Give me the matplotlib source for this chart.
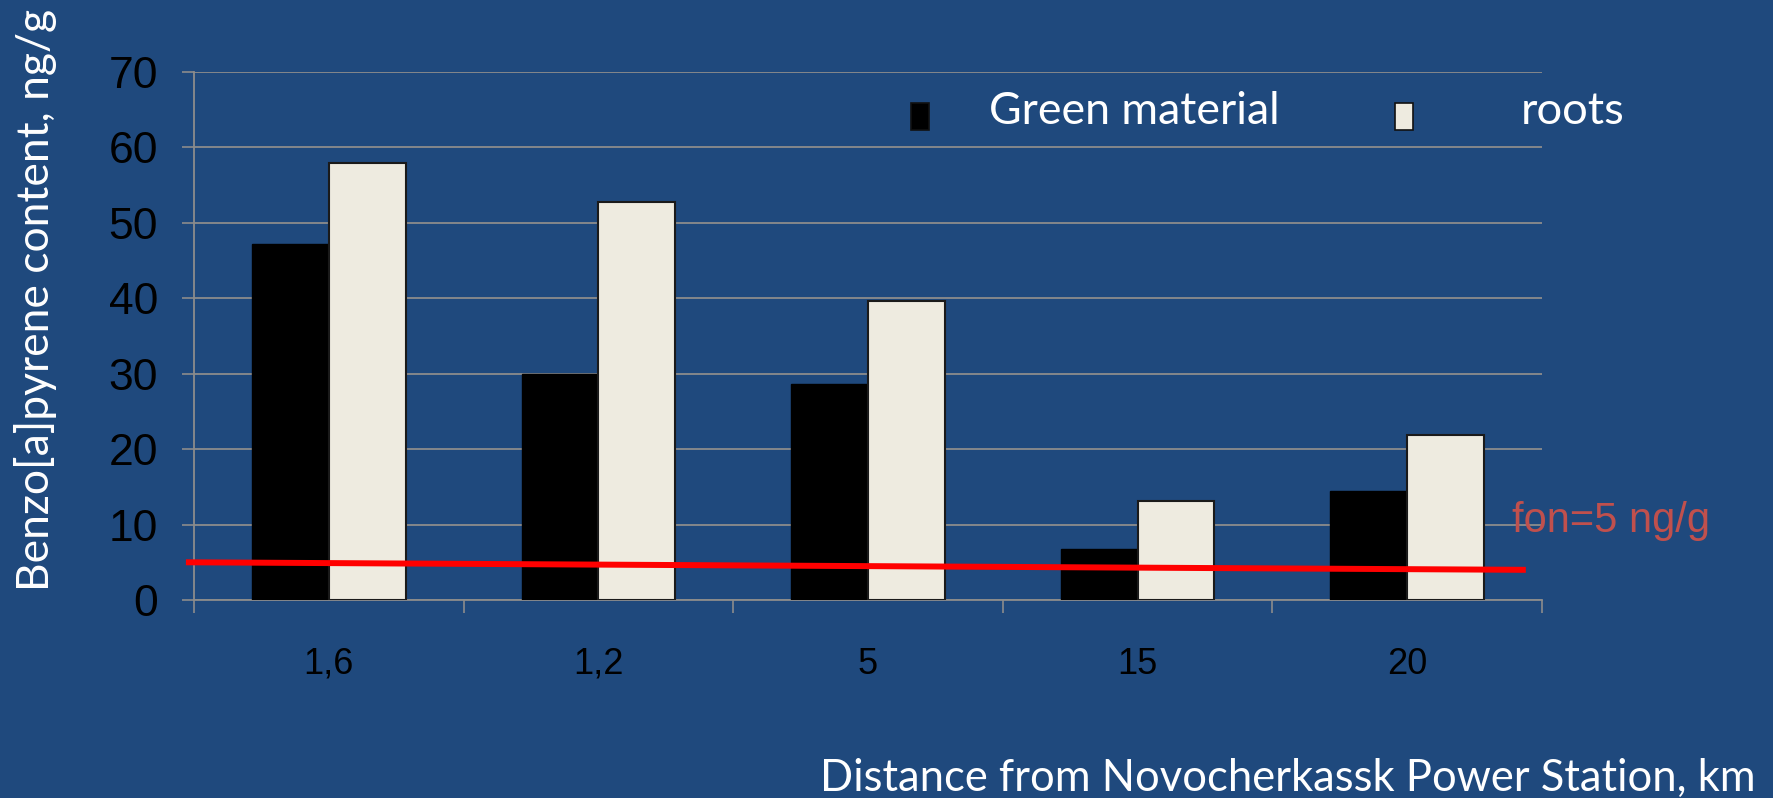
import matplotlib
matplotlib.use("Agg")
import matplotlib.pyplot as plt
from matplotlib import font_manager
from matplotlib.font_manager import FontProperties
from matplotlib.patches import Rectangle
import numpy as np

# ---- data ----
distances = ["1,6", "1,2", "5", "15", "20"]
green_material = [47.2, 30.0, 28.6, 6.7, 14.4]
roots = [57.9, 52.8, 39.6, 13.1, 21.9]
series_names = ["Green material", "roots"]
y_ticks = [0, 10, 20, 30, 40, 50, 60, 70]
background_x = [-0.53, 4.44]
background_y = [5.0, 4.0]
background_label = "fon=5 ng/g"

# ---- style ----
BG = "#1F497D"
CREAM = "#EEEBE0"
GRID = "#8C8C8C"
FON_RED = "#C0504D"


def pick_font(names):
    for n in names:
        try:
            font_manager.findfont(n, fallback_to_default=False)
            return n
        except Exception:
            continue
    return "DejaVu Sans"


ARIAL = pick_font(["Liberation Sans", "DejaVu Sans"])
HUMAN = pick_font(["Lato", "Open Sans", "DejaVu Sans"])

# narrow sans for the tick numbers, if the system has one
tick_fp = FontProperties(family=ARIAL, stretch="condensed")
narrow_file = font_manager.findfont(tick_fp)
has_narrow = "narrow" in narrow_file.lower() or "condensed" in narrow_file.lower()
if has_narrow:
    tick_font = FontProperties(fname=narrow_file)
    ysize, xsize = 35, 27
else:
    tick_font = FontProperties(family=ARIAL)
    ysize, xsize = 32, 26

W, H = 1773, 798
fig = plt.figure(figsize=(W / 100, H / 100), dpi=100, facecolor=BG)
ax = fig.add_axes([194 / W, 1 - 600 / H, (1542 - 194) / W, (600 - 72) / H])
ax.set_facecolor(BG)

x = np.arange(len(distances))
bw = 0.285
ax.bar(x - bw / 2, green_material, width=bw, color="black", edgecolor="black",
       linewidth=1.0, zorder=3)
ax.bar(x + bw / 2, roots, width=bw, color=CREAM, edgecolor="#1a1a1a",
       linewidth=1.5, zorder=3)

ax.plot(background_x, background_y, color="#FF0000", lw=4.3, zorder=5,
        clip_on=False, solid_capstyle="butt")

ax.set_xlim(-0.5, len(distances) - 0.5)
ax.set_ylim(0, 70)
ax.set_yticks(y_ticks)
ax.set_yticklabels([str(v) for v in y_ticks], color="black")
for lab in ax.get_yticklabels():
    lab.set_fontproperties(tick_font)
    lab.set_fontsize(ysize)
ax.tick_params(axis="y", length=9, width=1.2, color=GRID, pad=17)

# category separators as major ticks, names on minor ticks
ax.set_xticks(np.arange(-0.5, len(distances), 1.0))
ax.set_xticklabels([])
ax.set_xticks(x, minor=True)
ax.set_xticklabels(distances, minor=True, color="black")
for lab in ax.get_xticklabels(minor=True):
    lab.set_fontproperties(tick_font)
    lab.set_fontsize(xsize)
ax.tick_params(axis="x", which="major", length=9.5, width=1.2, color=GRID)
ax.tick_params(axis="x", which="minor", length=0, pad=33.5)

ax.yaxis.grid(True, color=GRID, lw=1.3, zorder=0)
ax.set_axisbelow(True)
for s in ["top", "right"]:
    ax.spines[s].set_visible(False)
for s in ["left", "bottom"]:
    ax.spines[s].set_color(GRID)
    ax.spines[s].set_linewidth(1.3)

# ---- texts ----
renderer = fig.canvas.get_renderer()


def fit(t, target, vertical=False):
    bb = t.get_window_extent(renderer)
    cur = bb.height if vertical else bb.width
    t.set_fontsize(t.get_fontsize() * target / cur)


fig.text(1512 / W, 1 - 532 / H, background_label, color=FON_RED,
         fontsize=30, family=ARIAL, ha="left", va="baseline")

ylab = fig.text(36 / W, 1 - 300 / H, "Benzo[a]pyrene content, ng/g",
                color="white", fontsize=30, family=HUMAN, rotation=90,
                ha="center", va="center")
fit(ylab, 581, vertical=True)

xlab = fig.text(1756 / W, 1 - 791 / H,
                "Distance from Novocherkassk Power Station, km",
                color="white", fontsize=30, family=HUMAN, ha="right",
                va="baseline")
fit(xlab, 934)

# legend
legend_items = [
    (series_names[0], "black", 911, 989, 290),
    (series_names[1], CREAM, 1395, 1521, 104),
]
for name, col, mx, tx, tw in legend_items:
    fig.patches.append(Rectangle((mx / W, 1 - 130 / H), 18 / W, 27 / H,
                                 transform=fig.transFigure, facecolor=col,
                                 edgecolor="#111111", lw=1.2))
    t = fig.text(tx / W, 1 - 124 / H, name, color="white", fontsize=30,
                 family=HUMAN, ha="left", va="baseline")
    fit(t, tw)

fig.savefig("out.png", dpi=100, facecolor=BG)
